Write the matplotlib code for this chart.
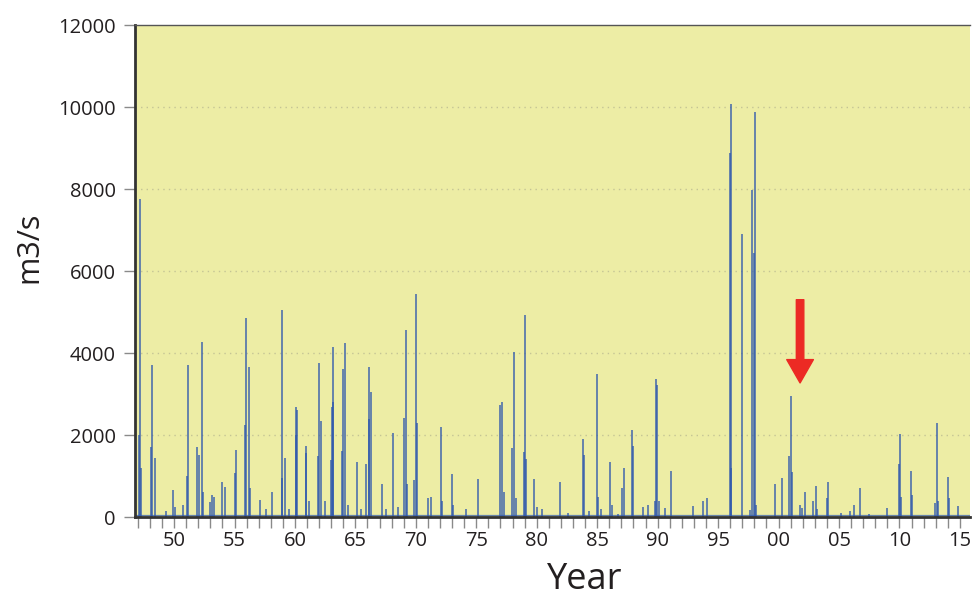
import numpy as np
import matplotlib
matplotlib.use('Agg')
import matplotlib.pyplot as plt

plt.rcParams['font.family'] = ['Open Sans', 'DejaVu Sans']

# peak discharge events (decimal year, m3/s)
peak_years = [
    1947.10, 1947.19, 1947.25, 1948.10, 1948.16, 1948.43, 1949.30, 1949.94,
    1950.10, 1950.75, 1951.10, 1951.18, 1951.93, 1952.10, 1952.29, 1952.40,
    1952.98, 1953.10, 1953.34, 1953.94, 1954.22, 1955.05, 1955.13, 1955.90,
    1955.98, 1956.23, 1956.30, 1957.14, 1957.60, 1958.13, 1958.90, 1958.96,
    1959.18, 1959.50, 1960.05, 1960.09, 1960.14, 1960.88, 1960.92, 1961.20,
    1961.92, 1961.99, 1962.16, 1962.45, 1962.95, 1963.04, 1963.12, 1963.18,
    1963.85, 1963.95, 1964.14, 1964.40, 1965.16, 1965.50, 1965.85, 1966.10,
    1966.15, 1966.29, 1967.18, 1967.50, 1968.14, 1968.55, 1969.05, 1969.19,
    1969.30, 1969.88, 1970.04, 1970.08, 1971.04, 1971.26, 1972.08, 1972.20,
    1973.02, 1973.10, 1974.13, 1975.18, 1976.99, 1977.13, 1977.25, 1977.93,
    1978.12, 1978.25, 1978.98, 1979.06, 1979.12, 1979.75, 1980.05, 1980.40,
    1981.95, 1982.60, 1983.85, 1983.90, 1984.30, 1985.01, 1985.10, 1985.30,
    1986.09, 1986.20, 1986.70, 1987.08, 1987.25, 1987.91, 1987.95, 1988.82,
    1989.23, 1989.80, 1989.89, 1989.95, 1990.15, 1990.60, 1991.13, 1992.95,
    1993.78, 1994.11, 1995.98, 1996.05, 1996.10, 1996.96, 1997.60, 1997.83,
    1997.95, 1998.03, 1998.15, 1999.74, 2000.26, 2000.89, 2001.06, 2001.10,
    2001.78, 2001.95, 2002.21, 2002.88, 2003.08, 2003.20, 2004.00, 2004.07,
    2005.20, 2005.90, 2006.22, 2006.77, 2007.50, 2009.00, 2009.97, 2010.08,
    2010.15, 2010.93, 2011.00, 2012.90, 2013.13, 2013.20, 2014.04, 2014.08,
    2014.82,
]
peak_flows = [
    2000, 7750, 1200, 1700, 3710, 1450, 150, 660,
    250, 300, 1000, 3710, 1710, 1510, 4280, 600,
    370, 540, 500, 860, 740, 1070, 1630, 2250,
    4850, 3670, 700, 415, 200, 620, 950, 5050,
    1430, 200, 2000, 2690, 2610, 1550, 1720, 400,
    1500, 3760, 2330, 400, 1400, 2690, 4150, 2810,
    1600, 3600, 4240, 300, 1350, 200, 1300, 2400,
    3650, 3060, 810, 200, 2060, 250, 2410, 4560,
    800, 900, 5440, 2300, 460, 500, 2200, 400,
    1050, 300, 200, 920, 2730, 2810, 600, 1680,
    4030, 460, 1590, 4930, 1420, 920, 250, 200,
    860, 100, 1910, 1510, 150, 3490, 500, 200,
    1330, 300, 80, 700, 1190, 2120, 1730, 240,
    290, 400, 3370, 3220, 400, 220, 1130, 270,
    400, 460, 8880, 10070, 1200, 6900, 180, 7980,
    6440, 9890, 300, 810, 950, 1500, 2960, 1100,
    300, 230, 620, 400, 760, 200, 460, 860,
    100, 150, 290, 700, 80, 220, 1300, 2020,
    500, 1110, 540, 350, 2300, 400, 970, 460,
    270,
]

y_ticks = [0, 2000, 4000, 6000, 8000, 10000, 12000]
label_years = [1950, 1955, 1960, 1965, 1970, 1975, 1980, 1985, 1990, 1995,
               2000, 2005, 2010, 2015]

years = np.array(peak_years)
flows = np.array(peak_flows)
order = np.argsort(years)
years, flows = years[order], flows[order]

bg = '#ededa5'
blue = '#2f58ad'

fig = plt.figure(figsize=(9.72, 5.97), dpi=100)
ax = fig.add_axes([0.1389, 0.1340, 0.8591, 0.8241])
ax.set_facecolor(bg)

ax.vlines(years, 0, flows, color=blue, linewidth=1.1, alpha=0.9)
# low-flow trace hugging the bottom
ax.axhline(40, color=blue, linewidth=0.9, alpha=0.7)

ax.set_xlim(1946.77, 2015.84)
ax.set_ylim(0, 12000)

# grid
for v in y_ticks[1:-1]:
    ax.axhline(v, color='#c4c495', linestyle=(0, (1, 3)), linewidth=1.0, zorder=0)

ax.set_yticks(y_ticks)
ax.set_yticklabels([str(v) for v in y_ticks], fontsize=14.5, color='#231f20')
ax.set_xticks(np.arange(1947, 2016), minor=True)
ax.set_xticks(label_years)
ax.set_xticklabels([f'{y % 100:02d}' for y in label_years], fontsize=14.5, color='#231f20')
ax.tick_params(axis='y', length=8, width=1, color='#8a8a8a', pad=6)
ax.tick_params(axis='x', which='both', length=8, width=1, color='#8a8a8a', pad=2)

for side in ['left', 'bottom']:
    ax.spines[side].set_color('#333333')
    ax.spines[side].set_linewidth(2)
ax.spines['top'].set_color('#555555')
ax.spines['top'].set_linewidth(1)
ax.spines['right'].set_visible(False)

fig.text(0.030, 0.585, 'm3/s', rotation=90, fontsize=22, color='#231f20',
         ha='center', va='center')
fig.text(0.602, 0.028, 'Year', fontsize=26, color='#231f20', ha='center', va='center')

# red arrow marking the 2001 event
ax.annotate('', xy=(2001.78, 3270), xytext=(2001.78, 5300),
            arrowprops=dict(arrowstyle='simple, tail_width=0.45, head_width=1.6, head_length=1.4',
                            color='#ec2a24', mutation_scale=12, shrinkA=0, shrinkB=0))

fig.savefig('out.png', dpi=100, facecolor='white')
